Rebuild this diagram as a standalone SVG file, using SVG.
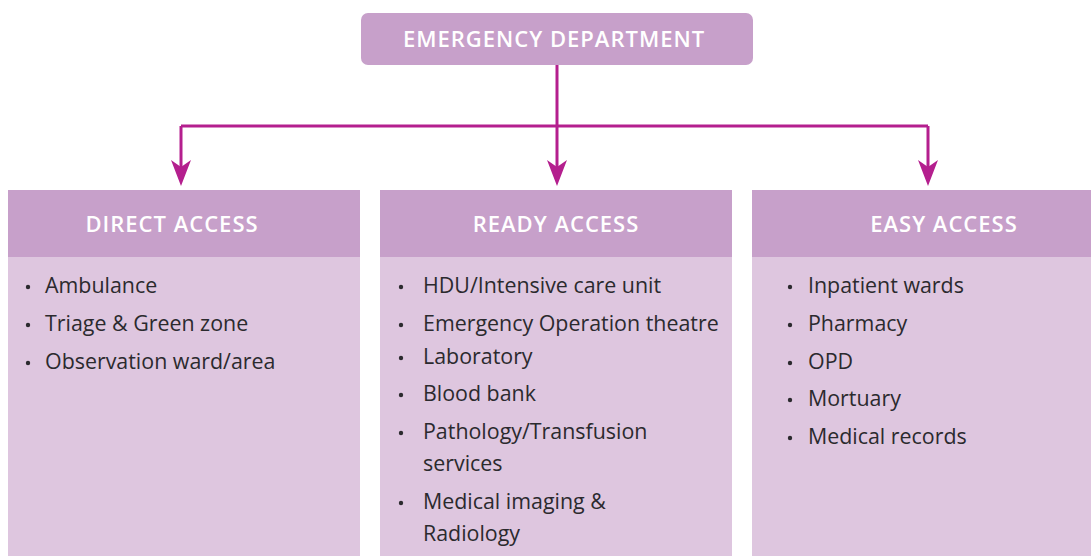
<svg xmlns="http://www.w3.org/2000/svg" width="1091" height="556" viewBox="0 0 1091 556">
<defs>
<style>
.hd{fill:#c7a0ca}
.bd{fill:#dec6df}
.ht{font-family:"Open Sans","Liberation Sans",sans-serif;font-weight:600;font-size:22px;letter-spacing:1px;fill:#ffffff;text-anchor:middle}
.it{font-family:"Open Sans","Liberation Sans",sans-serif;font-size:21.4px;fill:#2b2a2e}
.bl{fill:#2b2a2e}
.cn{stroke:#b41f8e;stroke-width:3;fill:none}
</style>
<marker id="ah" viewBox="0 0 26 20" refX="20" refY="10" markerWidth="26" markerHeight="20" markerUnits="userSpaceOnUse" orient="auto">
<path d="M0 0 L7 10 L0 20 L26 10 Z" fill="#b41f8e"/>
</marker>
</defs>
<rect width="1091" height="556" fill="#ffffff"/>
<g id="connectors">
<path class="cn" d="M557 65 V126"/>
<path class="cn" d="M181 126 H928"/>
<path class="cn" d="M181 126 V180" marker-end="url(#ah)"/>
<path class="cn" d="M557 126 V180" marker-end="url(#ah)"/>
<path class="cn" d="M928 126 V180" marker-end="url(#ah)"/>
</g>
<g id="emergency-department">
<rect x="361" y="13" width="392" height="52" rx="7" class="hd"/>
<text x="554" y="47" class="ht">EMERGENCY DEPARTMENT</text>
</g>
<g id="direct-access">
<rect x="8" y="190" width="352" height="67" class="hd"/>
<rect x="8" y="257" width="352" height="299" class="bd"/>
<text x="172" y="232" class="ht">DIRECT ACCESS</text>
<circle cx="28" cy="287" r="2.2" class="bl"/><text x="45" y="293" class="it">Ambulance</text>
<circle cx="28" cy="325" r="2.2" class="bl"/><text x="45" y="331" class="it">Triage &amp; Green zone</text>
<circle cx="28" cy="363" r="2.2" class="bl"/><text x="45" y="369" class="it">Observation ward/area</text>
</g>
<g id="ready-access">
<rect x="380" y="190" width="352" height="67" class="hd"/>
<rect x="380" y="257" width="352" height="299" class="bd"/>
<text x="556" y="232" class="ht">READY ACCESS</text>
<circle cx="401" cy="287" r="2.2" class="bl"/><text x="423" y="293" class="it">HDU/Intensive care unit</text>
<circle cx="401" cy="325" r="2.2" class="bl"/><text x="423" y="331" class="it">Emergency Operation theatre</text>
<circle cx="401" cy="358" r="2.2" class="bl"/><text x="423" y="364" class="it">Laboratory</text>
<circle cx="401" cy="395" r="2.2" class="bl"/><text x="423" y="401" class="it">Blood bank</text>
<circle cx="401" cy="433" r="2.2" class="bl"/><text x="423" y="439" class="it">Pathology/Transfusion</text>
<text x="423" y="471" class="it">services</text>
<circle cx="401" cy="503" r="2.2" class="bl"/><text x="423" y="509" class="it">Medical imaging &amp;</text>
<text x="423" y="541" class="it">Radiology</text>
</g>
<g id="easy-access">
<rect x="752" y="190" width="339" height="67" class="hd"/>
<rect x="752" y="257" width="339" height="299" class="bd"/>
<text x="944" y="232" class="ht">EASY ACCESS</text>
<circle cx="790" cy="287" r="2.2" class="bl"/><text x="808" y="293" class="it">Inpatient wards</text>
<circle cx="790" cy="325" r="2.2" class="bl"/><text x="808" y="331" class="it">Pharmacy</text>
<circle cx="790" cy="363" r="2.2" class="bl"/><text x="808" y="369" class="it">OPD</text>
<circle cx="790" cy="400" r="2.2" class="bl"/><text x="808" y="406" class="it">Mortuary</text>
<circle cx="790" cy="438" r="2.2" class="bl"/><text x="808" y="444" class="it">Medical records</text>
</g>
</svg>
